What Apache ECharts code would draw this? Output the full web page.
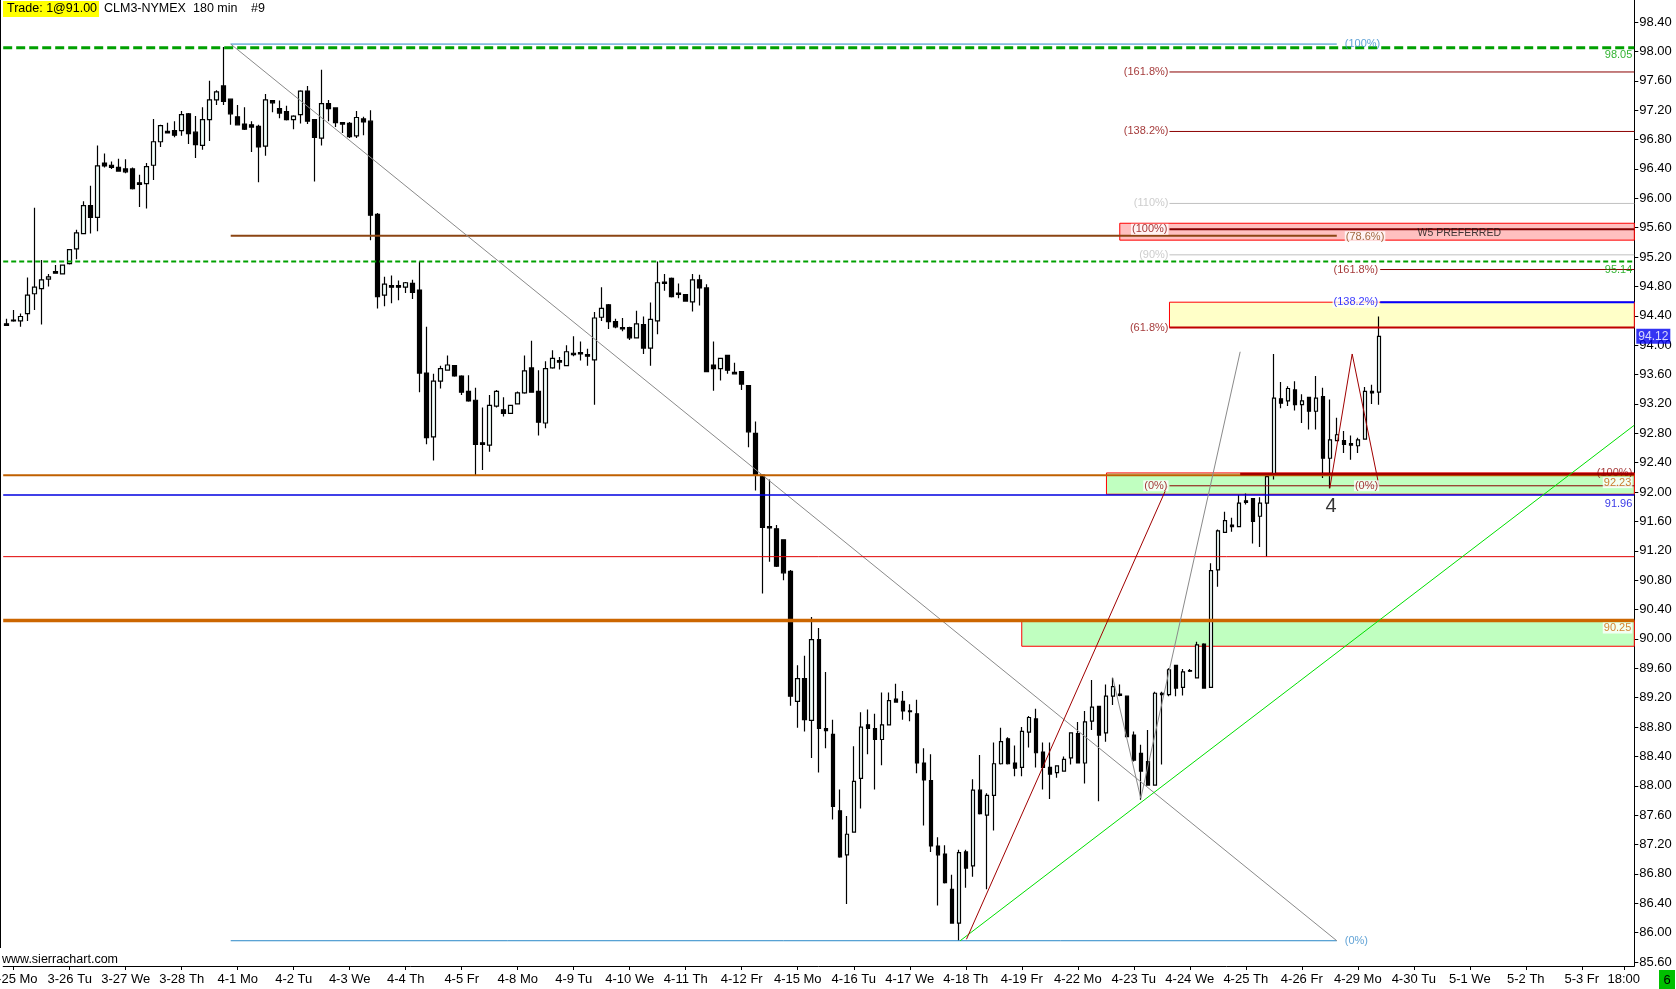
<!DOCTYPE html>
<html>
<head>
<meta charset="utf-8">
<script src="https://cdn.jsdelivr.net/npm/echarts@6/dist/echarts.min.js"></script>
<style>
html, body { margin: 0; padding: 0; background: #fff; }
#main { width: 1676px; height: 989px; }
</style>
</head>
<body>
<div id="main"></div>
<script>
// session days shown on the time axis (8 bars of 180 min per day)
var days = ['3-25 Mo', '3-26 Tu', '3-27 We', '3-28 Th', '4-1 Mo', '4-2 Tu', '4-3 We', '4-4 Th', '4-5 Fr',
    '4-8 Mo', '4-9 Tu', '4-10 We', '4-11 Th', '4-12 Fr', '4-15 Mo', '4-16 Tu', '4-17 We', '4-18 Th', '4-19 Fr',
    '4-22 Mo', '4-23 Tu', '4-24 We', '4-25 Th', '4-26 Fr', '4-29 Mo', '4-30 Tu', '5-1 We', '5-2 Th', '5-3 Fr'];
var barsPerDay = 8;

// price ticks on the right scale
var yTicks = [85.6, 86.0, 86.4, 86.8, 87.2, 87.6, 88.0, 88.4, 88.8, 89.2, 89.6, 90.0, 90.4, 90.8,
    91.2, 91.6, 92.0, 92.4, 92.8, 93.2, 93.6, 94.0, 94.4, 94.8, 95.2, 95.6, 96.0, 96.4, 96.8,
    97.2, 97.6, 98.0, 98.4];

// candles, first bar = 3-24 21:00
var open = [
    94.29, 94.34, 94.33, 94.43, 94.70, 94.77, 94.90, 95.00, 94.97, 95.11,
    95.31, 95.52, 95.90, 95.74, 96.48, 96.45, 96.42, 96.40, 96.40, 96.21,
    96.20, 96.45, 96.77, 96.91, 96.92, 96.92, 97.15, 96.90, 96.72, 97.07,
    97.34, 97.53, 97.35, 97.11, 97.01, 97.00, 96.98, 96.71, 97.33, 97.22,
    97.18, 97.07, 97.14, 97.46, 97.07, 96.82, 97.29, 97.23, 97.03, 97.02,
    96.85, 97.08, 97.05, 95.78, 94.68, 94.81, 94.81, 94.79, 94.84, 94.75,
    93.62, 92.75, 93.51, 93.66, 93.72, 93.58, 93.37, 93.25, 92.67, 92.64,
    93.17, 93.12, 93.07, 93.20, 93.35, 93.69, 93.37, 92.94, 93.69, 93.79,
    93.72, 93.89, 93.90, 93.87, 93.80, 94.38, 94.55, 94.32, 94.24, 94.24,
    94.10, 94.28, 93.96, 94.33, 94.86, 94.91, 94.71, 94.69, 94.59, 94.89,
    94.78, 93.73, 93.68, 93.86, 93.63, 93.64, 93.45, 92.80, 92.23, 91.53,
    91.50, 91.35, 90.92, 89.15, 89.46, 88.89, 89.99, 88.78, 88.70, 87.66,
    87.06, 87.37, 88.10, 88.83, 88.78, 88.63, 88.83, 89.18, 89.15, 89.02,
    88.98, 88.31, 88.07, 87.18, 87.07, 86.59, 86.13, 87.10, 86.91, 87.94,
    87.60, 87.87, 88.30, 88.64, 88.31, 88.25, 88.73, 88.91, 88.46, 88.25,
    88.18, 88.20, 88.38, 88.71, 88.31, 88.88, 89.08, 88.72, 89.22, 89.25,
    89.22, 88.69, 88.44, 88.33, 88.01, 89.26, 89.24, 89.64, 89.34, 89.57,
    89.47, 89.93, 89.34, 90.94, 91.45, 91.55, 91.53, 91.88, 91.91, 91.67,
    91.85, 92.24, 93.27, 93.24, 93.39, 93.19, 93.29, 93.10, 93.30, 92.46,
    92.70, 92.70, 92.66, 92.63, 92.72, 93.37, 93.36
];
var high = [
    94.36, 94.48, 94.43, 94.92, 95.87, 95.16, 94.97, 95.09, 95.10, 95.31,
    95.57, 95.96, 96.17, 96.72, 96.61, 96.50, 96.54, 96.53, 96.42, 96.32,
    96.48, 97.08, 97.00, 97.03, 97.05, 97.19, 97.16, 97.12, 97.24, 97.60,
    97.47, 98.06, 97.36, 97.27, 97.24, 97.05, 97.00, 97.42, 97.34, 97.33,
    97.26, 97.13, 97.47, 97.53, 97.08, 97.75, 97.34, 97.24, 97.04, 97.04,
    97.19, 97.11, 97.20, 95.80, 94.93, 94.95, 94.88, 94.86, 94.89, 95.14,
    94.25, 93.61, 93.72, 93.86, 93.73, 93.59, 93.59, 93.42, 93.15, 93.32,
    93.39, 93.29, 93.18, 93.37, 93.86, 94.06, 93.66, 93.78, 93.93, 93.84,
    94.00, 94.12, 94.05, 93.95, 94.45, 94.79, 94.56, 94.36, 94.37, 94.25,
    94.47, 94.39, 94.58, 95.14, 94.97, 94.92, 94.84, 94.69, 94.97, 94.96,
    94.83, 94.05, 93.83, 93.86, 93.76, 93.64, 93.45, 92.96, 92.24, 92.17,
    91.55, 91.35, 90.94, 89.64, 89.77, 90.30, 90.15, 89.55, 88.90, 87.95,
    87.59, 88.54, 89.00, 89.04, 88.98, 89.27, 89.27, 89.39, 89.29, 89.11,
    89.17, 88.51, 88.43, 87.30, 87.19, 86.79, 87.13, 87.13, 88.09, 88.42,
    87.90, 88.59, 88.79, 88.66, 88.55, 88.80, 88.95, 89.05, 88.59, 88.59,
    88.27, 88.40, 88.72, 88.87, 89.02, 89.44, 89.09, 89.38, 89.47, 89.38,
    89.22, 88.74, 88.56, 88.76, 89.28, 89.28, 89.60, 89.64, 89.59, 89.59,
    89.96, 89.94, 91.03, 91.49, 91.73, 91.65, 91.96, 91.98, 91.91, 91.93,
    92.26, 93.88, 93.50, 93.44, 93.51, 93.33, 93.29, 93.58, 93.42, 93.26,
    93.01, 92.83, 92.77, 92.74, 93.43, 93.46, 94.39
];
var low = [
    94.27, 94.32, 94.25, 94.33, 94.48, 94.28, 94.80, 94.98, 94.97, 95.10,
    95.17, 95.51, 95.52, 95.55, 96.42, 96.40, 96.36, 96.34, 96.12, 95.88,
    95.86, 96.25, 96.70, 96.89, 96.83, 96.85, 96.74, 96.55, 96.66, 96.78,
    97.27, 97.27, 97.00, 97.00, 96.93, 96.63, 96.22, 96.58, 97.17, 97.09,
    97.06, 96.94, 97.02, 97.01, 96.23, 96.72, 97.05, 96.97, 96.89, 96.82,
    96.82, 96.86, 95.43, 94.50, 94.53, 94.57, 94.61, 94.71, 94.63, 93.36,
    92.65, 92.43, 93.41, 93.65, 93.57, 93.32, 93.23, 92.23, 92.30, 92.55,
    93.15, 93.03, 93.07, 93.20, 93.34, 93.36, 92.77, 92.87, 93.68, 93.67,
    93.72, 93.85, 93.79, 93.72, 93.19, 94.33, 94.22, 94.23, 94.19, 94.07,
    94.09, 93.88, 93.72, 94.15, 94.74, 94.65, 94.64, 94.59, 94.46, 94.54,
    93.64, 93.38, 93.52, 93.61, 93.60, 93.39, 92.61, 92.02, 90.62, 91.05,
    90.98, 90.80, 89.09, 88.79, 88.74, 88.38, 88.18, 88.51, 87.54, 87.02,
    86.39, 87.36, 87.69, 88.43, 87.95, 88.28, 88.82, 89.14, 88.90, 88.88,
    88.17, 87.46, 87.10, 86.37, 86.67, 86.13, 85.89, 86.61, 86.76, 87.61,
    86.59, 87.39, 88.29, 88.29, 88.13, 88.13, 88.52, 88.25, 87.95, 87.82,
    88.11, 88.19, 88.29, 88.31, 88.03, 88.76, 87.79, 88.60, 89.10, 89.22,
    88.67, 88.33, 87.81, 88.00, 88.00, 88.29, 89.22, 89.22, 89.23, 89.55,
    89.46, 89.32, 89.34, 90.71, 91.45, 91.46, 91.52, 91.83, 91.30, 91.25,
    91.12, 92.17, 93.14, 93.17, 93.11, 92.94, 92.85, 92.85, 92.19, 92.05,
    92.69, 92.53, 92.44, 92.53, 92.72, 93.20, 93.19
];
var close = [
    94.27, 94.33, 94.39, 94.68, 94.79, 94.89, 94.93, 94.98, 95.09, 95.30,
    95.53, 95.90, 95.74, 96.44, 96.44, 96.42, 96.37, 96.36, 96.13, 96.19,
    96.43, 96.77, 96.99, 96.89, 96.86, 97.14, 96.88, 96.73, 97.07, 97.34,
    97.45, 97.32, 97.15, 97.00, 96.94, 96.97, 96.70, 97.34, 97.30, 97.16,
    97.07, 97.12, 97.46, 97.05, 96.83, 97.29, 97.22, 97.03, 97.01, 96.84,
    97.10, 97.04, 95.77, 94.66, 94.83, 94.79, 94.79, 94.85, 94.72, 93.62,
    92.74, 93.51, 93.68, 93.73, 93.58, 93.36, 93.24, 92.65, 92.65, 93.18,
    93.37, 93.07, 93.18, 93.35, 93.65, 93.36, 92.95, 93.68, 93.82, 93.77,
    93.91, 93.87, 93.88, 93.85, 94.37, 94.50, 94.32, 94.25, 94.22, 94.10,
    94.29, 93.96, 94.35, 94.85, 94.84, 94.66, 94.69, 94.60, 94.89, 94.78,
    93.64, 93.68, 93.82, 93.66, 93.61, 93.47, 92.82, 92.23, 91.52, 91.51,
    90.99, 90.90, 89.22, 89.46, 88.90, 89.99, 88.78, 88.75, 87.72, 87.03,
    87.34, 88.06, 88.80, 88.78, 88.63, 88.83, 89.16, 89.14, 89.02, 89.01,
    88.31, 88.08, 87.18, 87.06, 86.68, 86.13, 87.09, 86.88, 87.94, 87.62,
    87.87, 88.30, 88.60, 88.30, 88.24, 88.74, 88.93, 88.45, 88.25, 88.16,
    88.27, 88.36, 88.72, 88.31, 88.87, 89.07, 88.69, 89.22, 89.35, 89.23,
    88.67, 88.35, 88.20, 88.01, 89.26, 89.24, 89.58, 89.33, 89.55, 89.56,
    89.92, 89.33, 90.93, 91.47, 91.61, 91.53, 91.85, 91.86, 91.60, 91.85,
    92.21, 93.28, 93.21, 93.41, 93.19, 93.24, 93.10, 93.28, 92.46, 92.71,
    92.78, 92.65, 92.64, 92.71, 93.37, 93.35, 94.12
];
var lastPrice = 94.12;

// drawing tools (x in bar index, y in price)
var bigFibStart = 32, bigFibEnd = 190;
var bigFib = {top: 98.10, r786: 95.49, bottom: 85.89};
var fib1Start = 166.1;
var fib1 = {p1618: 97.72, p1382: 96.91, p110: 95.93, p100: 95.58, p90: 95.23, p618: 94.24, p0: 92.085};
var fib2Start = 196.2;
var fib2 = {p1618: 95.03, p1382: 94.585};
var levels = {green1: 98.05, green2: 95.14, orange1: 92.23, blue: 91.96, red: 91.12, orange2: 90.25, w4: 92.245};
var w4Start = 176.2;
// zones: [x0, x1, top, bottom]
var zones = [
    [159.0, 232.5, 95.66, 95.43],
    [166.1, 232.5, 94.585, 94.24],
    [157.1, 232.5, 92.26, 91.97],
    [145.0, 232.5, 90.25, 89.90]
];
var zoneFill = ['#ffc0c0', '#ffffc8', '#c0ffc0', '#c0ffc0'];
var trendLine = [[136.2, 85.89], [232.5, 92.91]];
var impulseLine = [[137.1, 85.91], [165.8, 92.08]];
var grayZigzag = [[158.0, 89.47], [162.0, 87.83], [176.2, 93.91]];
var redZigzag = [[189.0, 92.05], [192.2, 93.88], [196.0, 92.10]];

var xMin = -0.5, xMax = 232.5;
var FONT = 'Liberation Sans';

var categories = [''];
days.forEach(function (d) {
    categories.push(d);
    for (var i = 1; i < barsPerDay; i++) categories.push('');
});
categories[1 + 28 * barsPerDay + 6] = '18:00';

var ohlc = open.map(function (o, i) { return [o, close[i], low[i], high[i]]; });

function seg(points, color, width, dash, z) {
    return {
        type: 'line', xAxisIndex: 1, yAxisIndex: 0, data: points, symbol: 'none',
        silent: true, animation: false, z: z || 4,
        lineStyle: {color: color, width: width, type: dash || 'solid'}
    };
}
function hline(p, x0, x1, color, width, dash, z) {
    return seg([[x0, p], [x1, p]], color, width, dash, z);
}
function lab(x, p, text, color, align, vAlign, dx, dy, extra) {
    var l = {
        show: true, formatter: text, position: 'inside', align: align, verticalAlign: vAlign,
        offset: [dx, dy], color: color, fontSize: 11, fontFamily: FONT
    };
    for (var k in (extra || {})) l[k] = extra[k];
    return {value: [x, p], label: l};
}

var DR = '#8b0000', LG = '#c0c0c0', SB = '#3a8ccc';
var WBG = {backgroundColor: '#fff', padding: [0, 1]};
var labels = [
    lab(xMax, levels.green1, '98.05', '#00a000', 'right', 'top', -2, 2),
    lab(xMax, levels.green2, '95.14', '#00a000', 'right', 'top', -2, 3),
    lab(xMax, levels.w4, '(100%)', DR, 'right', 'middle', -2, -1),
    lab(xMax, levels.orange1, '92.23', '#c06000', 'right', 'top', -2, 2, WBG),
    lab(xMax, levels.blue, '91.96', '#0000e0', 'right', 'top', -2, 3),
    lab(xMax, levels.orange2, '90.25', '#cc6600', 'right', 'top', -2, 2, WBG),
    lab(bigFibEnd, bigFib.top, '(100%)', SB, 'left', 'middle', 8, 0),
    lab(bigFibEnd, bigFib.bottom, '(0%)', SB, 'left', 'middle', 8, 0),
    lab(bigFibEnd, bigFib.r786, '(78.6%)', '#8b4513', 'left', 'middle', 8, 1, WBG),
    lab(fib1Start, fib1.p1618, '(161.8%)', DR, 'right', 'middle', -1, 0),
    lab(fib1Start, fib1.p1382, '(138.2%)', DR, 'right', 'middle', -1, 0),
    lab(fib1Start, fib1.p110, '(110%)', LG, 'right', 'middle', -1, 0),
    lab(fib1Start, fib1.p100, '(100%)', DR, 'right', 'middle', -1, 0, WBG),
    lab(fib1Start, fib1.p90, '(90%)', LG, 'right', 'middle', -1, 0),
    lab(fib1Start, fib1.p618, '(61.8%)', DR, 'right', 'middle', -1, 0),
    lab(fib1Start, fib1.p0, '(0%)', DR, 'right', 'middle', -1, 0, WBG),
    lab(fib2Start, fib2.p1618, '(161.8%)', DR, 'right', 'middle', -1, 0, WBG),
    lab(fib2Start, fib2.p1382, '(138.2%)', '#0000ff', 'right', 'middle', -1, 0, WBG),
    lab(fib2Start, fib1.p0, '(0%)', DR, 'right', 'middle', -1, 0, WBG),
    lab(207.5, 95.53, 'W5 PREFERRED', '#101010', 'center', 'middle', 0, 0, {fontSize: 10.5}),
    lab(189.2, 91.80, '4', '#000000', 'center', 'middle', 0, 0, {fontSize: 20}),
    lab(xMax, lastPrice, lastPrice.toFixed(2), '#ffffff', 'left', 'middle', 2, 0,
        {backgroundColor: '#0000f0', padding: [2, 2, 1, 2], fontSize: 12})
];

var series = [
    {
        type: 'custom', xAxisIndex: 1, yAxisIndex: 0, z: 1, silent: true, animation: false,
        renderItem: function (params, api) {
            var a = api.coord([api.value(0), api.value(2)]);
            var b = api.coord([api.value(1), api.value(3)]);
            return {
                type: 'rect',
                shape: {x: a[0], y: a[1], width: b[0] - a[0], height: b[1] - a[1]},
                style: {fill: zoneFill[params.dataIndex], stroke: '#ff0000', lineWidth: 1}
            };
        },
        data: zones
    },
    {
        type: 'candlestick', xAxisIndex: 0, yAxisIndex: 0, data: ohlc, z: 2, barWidth: 4,
        silent: true, animation: false,
        itemStyle: {color: '#f2fffb', color0: '#000000', borderColor: '#000000', borderColor0: '#000000', borderWidth: 1.2}
    },
    hline(levels.green1, xMin, xMax, '#00a000', 3, [9, 4]),
    hline(levels.green2, xMin, xMax, '#00a000', 2, [5, 3]),
    hline(bigFib.top, bigFibStart, bigFibEnd, '#2a88c8', 1),
    hline(bigFib.bottom, bigFibStart, bigFibEnd, '#2a88c8', 1),
    hline(bigFib.r786, bigFibStart, bigFibEnd, '#8b4513', 2),
    seg([[bigFibStart, bigFib.top], [bigFibEnd, bigFib.bottom]], '#8a8a8a', 1),
    hline(fib1.p1618, fib1Start, xMax, DR, 1),
    hline(fib1.p1382, fib1Start, xMax, DR, 1),
    hline(fib1.p110, fib1Start, xMax, LG, 1),
    hline(fib1.p100, fib1Start, xMax, '#800000', 2),
    hline(fib1.p90, fib1Start, xMax, LG, 1),
    hline(fib1.p618, fib1Start, xMax, '#c00000', 2),
    hline(fib1.p0, fib1Start, xMax, DR, 1),
    hline(fib2.p1618, fib2Start, xMax, DR, 1),
    hline(fib2.p1382, fib2Start, xMax, '#0000ff', 2),
    hline(levels.orange1, xMin, xMax, '#c06000', 2),
    hline(levels.w4, w4Start, xMax, '#a00000', 2.5),
    hline(levels.blue, xMin, xMax, '#0000e0', 1.5),
    hline(levels.red, xMin, xMax, '#e00000', 1),
    hline(levels.orange2, xMin, xMax, '#cc6600', 3.5),
    seg(trendLine, '#00e000', 1),
    seg(impulseLine, '#a00000', 1),
    seg(grayZigzag, '#8a8a8a', 1),
    seg(redZigzag, '#a00000', 1),
    {
        type: 'scatter', xAxisIndex: 1, yAxisIndex: 0, z: 6, silent: true, animation: false,
        symbolSize: 1, itemStyle: {color: 'rgba(0,0,0,0)'}, data: labels
    }
];

var chart = echarts.init(document.getElementById('main'));
chart.setOption({
    animation: false,
    backgroundColor: '#ffffff',
    textStyle: {fontFamily: FONT},
    grid: {left: 3.2, right: 41.7, top: 0, bottom: 23, containLabel: false, outerBoundsMode: 'none'},
    xAxis: [
        {
            type: 'category', data: categories, boundaryGap: true,
            axisLine: {show: true, onZero: false, lineStyle: {color: '#000', width: 1}},
            axisTick: {show: true, alignWithLabel: true, length: 4, lineStyle: {color: '#000'},
                interval: function (i, v) { return v !== ''; }},
            axisLabel: {show: true, color: '#000', fontSize: 13, fontFamily: FONT, margin: 7,
                interval: function (i, v) { return v !== ''; }},
            splitLine: {show: false}
        },
        {type: 'value', min: xMin, max: xMax, show: false}
    ],
    yAxis: {
        type: 'value', position: 'right', min: 85.546, max: 98.70,
        axisLine: {show: true, onZero: false, lineStyle: {color: '#000', width: 1}},
        axisTick: {show: true, length: 4, lineStyle: {color: '#000'}, customValues: yTicks},
        axisLabel: {show: true, color: '#000', fontSize: 13, fontFamily: FONT, margin: 5,
            customValues: yTicks, formatter: function (v) { return v.toFixed(2); }},
        splitLine: {show: false}
    },
    graphic: [
        {type: 'line', shape: {x1: 0.5, y1: 0, x2: 0.5, y2: 948}, style: {stroke: '#000', lineWidth: 1}, z: 10},
        {type: 'rect', shape: {x: 3, y: 1, width: 96, height: 16}, style: {fill: '#ffff00'}, z: 10},
        {type: 'text', x: 7, y: 9, style: {text: 'Trade: 1@91.00', fill: '#000', font: '12.5px "Liberation Sans"', textVerticalAlign: 'middle'}, z: 11},
        {type: 'text', x: 104, y: 9, style: {text: 'CLM3-NYMEX', fill: '#000', font: '12.5px "Liberation Sans"', textVerticalAlign: 'middle'}, z: 11},
        {type: 'text', x: 193, y: 9, style: {text: '180 min', fill: '#000', font: '12.5px "Liberation Sans"', textVerticalAlign: 'middle'}, z: 11},
        {type: 'text', x: 251, y: 9, style: {text: '#9', fill: '#000', font: '12.5px "Liberation Sans"', textVerticalAlign: 'middle'}, z: 11},
        {type: 'text', x: 2, y: 960, style: {text: 'www.sierrachart.com', fill: '#000', font: '12.5px "Liberation Sans"', textVerticalAlign: 'middle'}, z: 11},
        {type: 'rect', shape: {x: 1659, y: 970, width: 16, height: 19}, style: {fill: '#00c000'}, z: 10},
        {type: 'text', x: 1667, y: 980, style: {text: '6', fill: '#000', font: '13px "Liberation Sans"', textAlign: 'center', textVerticalAlign: 'middle'}, z: 11}
    ],
    series: series
});
</script>
</body>
</html>
